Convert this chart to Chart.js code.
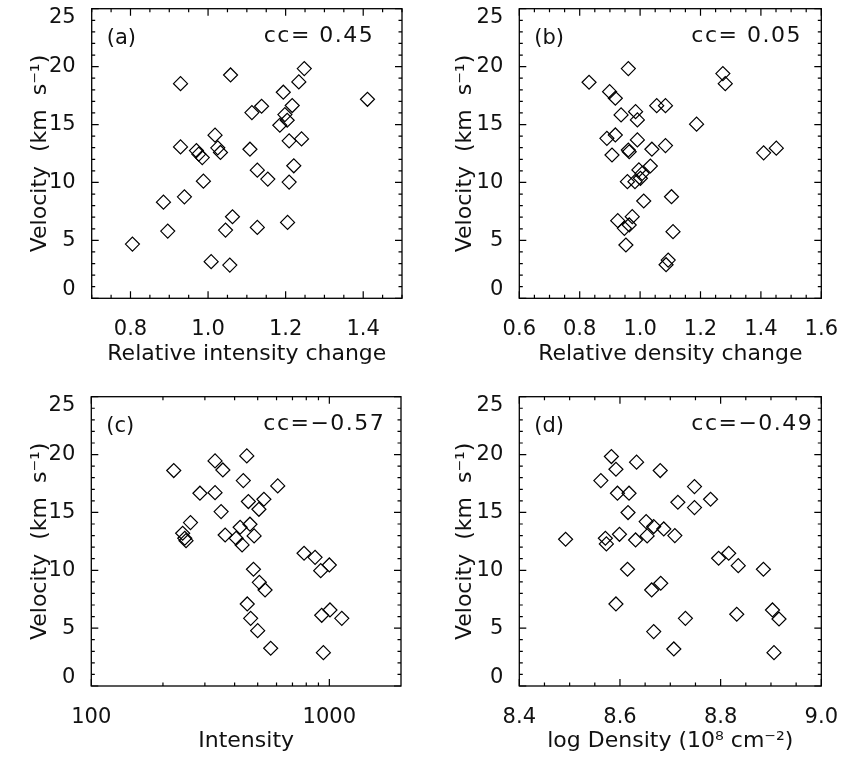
<!DOCTYPE html>
<html>
<head>
<meta charset="utf-8">
<script src="https://cdn.jsdelivr.net/npm/chart.js@4.4.1/dist/chart.umd.min.js"></script>
<style>
  body { margin: 0; background: #fff; }
  #wrap { position: relative; width: 849px; height: 757px; overflow: hidden; }
  canvas { position: absolute; }
</style>
</head>
<body>
<div id="wrap">
  <canvas id="panelA" width="424" height="400" style="left:0;top:-30px"></canvas>
  <canvas id="panelB" width="424" height="400" style="left:425px;top:-30px"></canvas>
  <canvas id="panelC" width="424" height="407" style="left:0;top:350px"></canvas>
  <canvas id="panelD" width="424" height="407" style="left:425px;top:350px"></canvas>
</div>
<script>
// values
const relIntensity = [0.805, 0.896, 0.885, 0.939, 0.929, 0.929, 0.970, 0.976, 0.985, 0.988, 1.018, 1.025, 1.032,
  1.008, 1.056, 1.045, 1.063, 1.058, 1.108, 1.113, 1.138, 1.127, 1.154, 1.127, 1.194, 1.198, 1.185, 1.204,
  1.217, 1.209, 1.241, 1.221, 1.209, 1.205, 1.234, 1.248, 1.411];
const velocityA = [4.68, 5.80, 8.30, 8.76, 18.53, 13.07, 12.75, 12.45, 12.15, 10.11, 14.08, 12.99, 12.59,
  3.16, 2.87, 5.89, 7.04, 19.28, 12.87, 16.03, 16.58, 11.06, 10.29, 6.12, 17.79, 15.86, 14.94, 15.37,
  16.64, 13.59, 13.76, 11.44, 10.03, 6.55, 18.68, 19.83, 17.18];

const relDensity = [0.831, 0.899, 0.918, 0.937, 0.890, 0.918, 0.907, 0.961, 0.985, 0.991, 0.991, 0.961, 0.964,
  0.958, 0.983, 1.001, 1.007, 0.996, 1.034, 1.039, 1.055, 1.084, 1.084, 1.012, 1.104, 0.974, 0.926, 0.948,
  0.964, 0.953, 1.109, 1.093, 1.086, 1.187, 1.274, 1.282, 1.409, 1.451];
const velocityB = [18.65, 17.84, 17.27, 15.83, 13.81, 14.10, 12.37, 19.83, 16.11, 15.40, 13.67, 12.80, 12.65,
  10.07, 10.07, 10.36, 10.79, 11.08, 11.42, 12.87, 16.63, 16.63, 13.18, 8.40, 8.77, 7.05, 6.70, 6.04,
  6.33, 4.60, 5.75, 3.30, 2.90, 15.03, 19.40, 18.53, 12.56, 12.96];

const intensity = [222, 247, 242, 250, 261, 286, 331, 357, 331, 351, 365, 406, 422, 430, 435, 457, 464, 483,
  450, 506, 531, 607, 480, 508, 537, 452, 467, 500, 567, 783, 871, 920, 1000, 929, 1006, 1128, 944];
const velocityC = [18.62, 12.77, 13.20, 12.56, 14.12, 16.66, 19.45, 18.67, 16.71, 15.07, 13.05, 12.77, 13.72,
  12.19, 17.75, 15.94, 13.98, 12.97, 19.88, 15.27, 16.14, 17.29, 10.09, 8.96, 8.30, 7.09, 5.85, 4.78,
  3.26, 11.47, 11.12, 9.97, 10.46, 6.11, 6.57, 5.85, 2.88];

const logDensity = [8.492, 8.562, 8.583, 8.592, 8.595, 8.571, 8.573, 8.599, 8.592, 8.616, 8.618, 8.615, 8.633,
  8.631, 8.652, 8.654, 8.667, 8.687, 8.680, 8.663, 8.681, 8.667, 8.709, 8.715, 8.707, 8.730, 8.748, 8.748,
  8.780, 8.796, 8.816, 8.835, 8.832, 8.885, 8.903, 8.916, 8.906];
const velocityD = [12.68, 17.75, 19.83, 18.73, 16.66, 12.77, 12.28, 13.11, 7.09, 14.99, 16.66, 10.09, 19.34,
  12.62, 14.21, 12.97, 13.78, 13.57, 18.62, 8.30, 8.88, 4.70, 13.00, 15.88, 3.20, 5.85, 17.23, 15.42,
  16.14, 11.04, 11.47, 10.40, 6.20, 10.09, 6.57, 5.79, 2.88];

const velTicks = [0, 5, 10, 15, 20, 25];
const ticksA = [0.8, 1.0, 1.2, 1.4];
const ticksB = [0.6, 0.8, 1.0, 1.2, 1.4, 1.6];
const ticksC = [100, 1000];
const minorC = [200, 300, 400, 500, 600, 700, 800, 900];
const ticksD = [8.4, 8.6, 8.8, 9.0];
const ccText = ['cc= 0.45', 'cc= 0.05', 'cc=\u22120.57', 'cc=\u22120.49'];

const FONT = '"DejaVu Sans", "Liberation Sans", sans-serif';
const INK = '#111';

function steps(min, max, step) {
  const out = [];
  for (let v = min; v <= max + 1e-9; v += step) out.push(+v.toFixed(4));
  return out;
}

// box with inward major/minor ticks on all four sides, like the IDL original
const idlFrame = {
  id: 'idlFrame',
  afterDraw(chart, args, o) {
    const {ctx, chartArea: a, scales: {x, y}} = chart;
    ctx.save();
    ctx.strokeStyle = '#000';
    ctx.lineWidth = 1.2;
    ctx.beginPath();
    const xMark = (list, len) => list.forEach(v => {
      const p = x.getPixelForValue(v);
      ctx.moveTo(p, a.bottom); ctx.lineTo(p, a.bottom - len);
      ctx.moveTo(p, a.top); ctx.lineTo(p, a.top + len);
    });
    const yMark = (list, len) => list.forEach(v => {
      const p = y.getPixelForValue(v);
      ctx.moveTo(a.left, p); ctx.lineTo(a.left + len, p);
      ctx.moveTo(a.right, p); ctx.lineTo(a.right - len, p);
    });
    xMark(o.xMinor, 3.5);
    xMark(o.xMajor, 7);
    yMark(o.yMinor, 3.5);
    yMark(o.yMajor, 7);
    ctx.stroke();
    ctx.lineWidth = 1.3;
    ctx.strokeRect(a.left, a.top, a.right - a.left, a.bottom - a.top);
    ctx.restore();
  }
};

const panelText = {
  id: 'panelText',
  afterDraw(chart, args, o) {
    const {ctx, chartArea: a} = chart;
    ctx.save();
    ctx.font = '21px ' + FONT;
    ctx.fillStyle = INK;
    ctx.textBaseline = 'middle';
    ctx.fillText(o.tag, a.left + 15, a.top + 30);
    ctx.font = '22px ' + FONT;
    ctx.letterSpacing = '1.5px';
    ctx.fillText(o.cc, a.left + 172, a.top + 28);
    ctx.restore();
  }
};

function makePanel(id, p) {
  const g = p.geom;
  new Chart(document.getElementById(id), {
    type: 'scatter',
    data: {
      datasets: [{
        data: p.xs.map((v, i) => ({x: v, y: p.ys[i]})),
        pointStyle: 'rectRot',
        pointRadius: 7,
        pointBorderWidth: 1.2,
        borderColor: '#000',
        backgroundColor: 'rgba(0,0,0,0)'
      }]
    },
    options: {
      responsive: false,
      animation: false,
      events: [],
      layout: { padding: { left: 0, top: g.padT, right: g.padR, bottom: 0 } },
      plugins: {
        legend: { display: false },
        tooltip: { enabled: false },
        idlFrame: { xMajor: p.xTicks, xMinor: p.xMinor, yMajor: velTicks, yMinor: steps(0, 25, 1) },
        panelText: { tag: p.tag, cc: p.cc }
      },
      scales: {
        x: {
          type: p.xType,
          min: p.xMin,
          max: p.xMax,
          grid: { display: false },
          border: { display: false },
          afterBuildTicks: s => { s.ticks = p.xTicks.map(v => ({value: v})); },
          afterFit: s => { s.height = g.xH; },
          ticks: {
            autoSkip: false,
            maxRotation: 0,
            padding: 11,
            color: INK,
            font: { family: FONT, size: 21 },
            callback: v => p.xFmt(v)
          },
          title: {
            display: true,
            text: p.xTitle,
            color: INK,
            font: { family: FONT, size: 22 },
            padding: { top: 0, bottom: 3 }
          }
        },
        y: {
          type: 'linear',
          min: 0,
          max: 25,
          grid: { display: false },
          border: { display: false },
          afterBuildTicks: s => { s.ticks = velTicks.map(v => ({value: v})); },
          afterFit: s => { s.width = g.yW; },
          ticks: {
            padding: 8,
            color: INK,
            font: { family: FONT, size: 21, lineHeight: 0.85 },
            // end labels sit just inside the box, as in the original
            callback: v => v === 0 ? ['0', ''] : v === 25 ? ['', '25'] : String(v)
          },
          title: {
            display: true,
            text: 'Velocity  (km  s\u207B\u00B9)',
            color: INK,
            font: { family: FONT, size: 22 },
            padding: { top: 27, bottom: 0 }
          }
        }
      }
    },
    plugins: [idlFrame, panelText]
  });
}

makePanel('panelA', {
  xs: relIntensity, ys: velocityA, xType: 'linear', xMin: 0.7, xMax: 1.5,
  xTicks: ticksA, xMinor: steps(0.7, 1.5, 0.05), xFmt: v => v.toFixed(1),
  xTitle: 'Relative intensity change', tag: '(a)', cc: ccText[0],
  geom: { yW: 91.7, padR: 22, padT: 38.7, xH: 71.7 }
});

makePanel('panelB', {
  xs: relDensity, ys: velocityB, xType: 'linear', xMin: 0.6, xMax: 1.6,
  xTicks: ticksB, xMinor: steps(0.6, 1.6, 0.05), xFmt: v => v.toFixed(1),
  xTitle: 'Relative density change', tag: '(b)', cc: ccText[1],
  geom: { yW: 94.3, padR: 20.7, padT: 38.7, xH: 71.7 }
});

makePanel('panelC', {
  xs: intensity, ys: velocityC, xType: 'logarithmic', xMin: 100, xMax: 2000,
  xTicks: ticksC, xMinor: minorC, xFmt: v => String(v),
  xTitle: 'Intensity', tag: '(c)', cc: ccText[2],
  geom: { yW: 91.3, padR: 23, padT: 46.7, xH: 71 }
});

makePanel('panelD', {
  xs: logDensity, ys: velocityD, xType: 'linear', xMin: 8.4, xMax: 9.0,
  xTicks: ticksD, xMinor: steps(8.4, 9.0, 0.05), xFmt: v => v.toFixed(1),
  xTitle: 'log Density (10\u2078 cm\u207B\u00B2)', tag: '(d)', cc: ccText[3],
  geom: { yW: 94.3, padR: 20, padT: 46.7, xH: 71 }
});
</script>
</body>
</html>
